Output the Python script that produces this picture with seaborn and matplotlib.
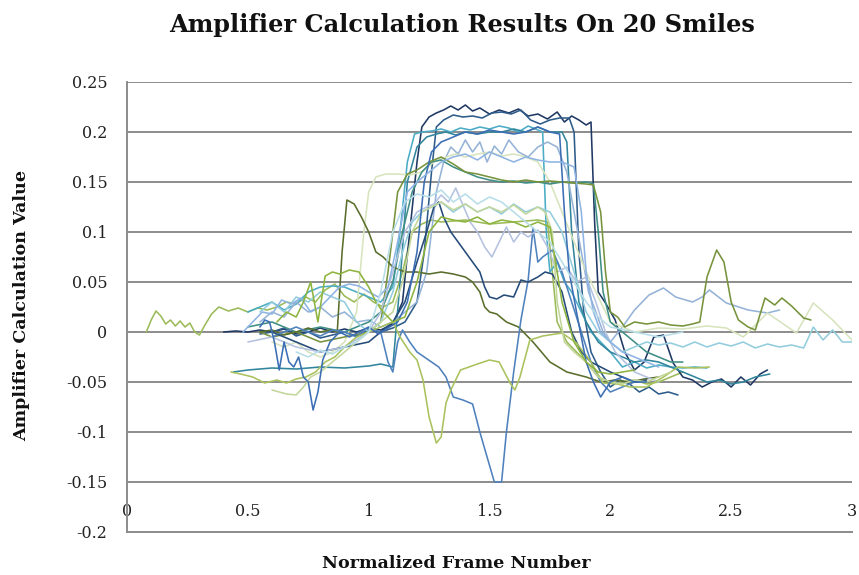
import numpy as np
import pandas as pd
import matplotlib
matplotlib.use("Agg")
import matplotlib.pyplot as plt
import seaborn as sns

# ---------------- data ----------------
s01_x = [0.08,0.10,0.12,0.14,0.16,0.18,0.20,0.22,0.24,0.26,0.28,0.30,0.32,0.35,0.38,0.42,0.46,0.50,0.54,0.58,0.62,0.66,0.70,0.74,0.78,0.82,0.86,0.90,0.94,0.98,1.02,1.06,1.10,1.14,1.18,1.22,1.26,1.30,1.40,1.50,1.60,1.70,1.74,1.76,1.78,1.82,1.86,1.90,1.95,2.00,2.05,2.10,2.15,2.20,2.25,2.30]
s01_y = [0.0,0.012,0.021,0.016,0.008,0.012,0.006,0.011,0.005,0.009,0.0,-0.003,0.006,0.018,0.025,0.021,0.024,0.020,0.024,0.022,0.025,0.030,0.028,0.035,0.030,0.042,0.048,0.036,0.030,0.038,0.030,0.025,0.030,0.060,0.100,0.108,0.112,0.110,0.112,0.108,0.110,0.112,0.110,0.060,0.010,-0.010,-0.020,-0.030,-0.045,-0.050,-0.050,-0.048,-0.052,-0.050,-0.045,-0.040]

s02_x = [0.40,0.45,0.50,0.55,0.60,0.65,0.70,0.75,0.80,0.85,0.90,0.95,1.00,1.05,1.10,1.14,1.17,1.20,1.22,1.25,1.28,1.31,1.34,1.37,1.40,1.43,1.46,1.50,1.54,1.58,1.62,1.66,1.70,1.74,1.78,1.81,1.84,1.87,1.90,1.92,1.935,1.95,1.98,2.02,2.06,2.10,2.14,2.18,2.22,2.26,2.30,2.34,2.38,2.42,2.46,2.50,2.54,2.58,2.62,2.65]
s02_y = [0.0,0.001,0.0,0.002,0.0,0.003,-0.002,0.0,0.004,0.0,0.003,0.0,0.004,0.002,0.008,0.030,0.100,0.170,0.205,0.215,0.219,0.222,0.226,0.222,0.227,0.221,0.224,0.218,0.222,0.219,0.223,0.216,0.218,0.213,0.220,0.210,0.216,0.212,0.207,0.210,0.110,0.040,0.029,0.012,-0.020,-0.038,-0.030,-0.005,-0.003,-0.031,-0.045,-0.048,-0.055,-0.050,-0.047,-0.055,-0.045,-0.053,-0.042,-0.038]

s03_x = [0.55,0.60,0.65,0.70,0.75,0.80,0.85,0.90,0.95,1.00,1.05,1.10,1.15,1.20,1.23,1.26,1.28,1.31,1.35,1.39,1.43,1.47,1.51,1.55,1.59,1.63,1.67,1.71,1.75,1.79,1.83,1.85,1.87,1.89,1.92,1.96,2.00,2.04,2.08,2.12,2.16,2.20,2.24,2.28]
s03_y = [-0.002,0.0,0.004,-0.004,0.0,-0.006,-0.003,0.0,-0.004,0.002,0.0,0.004,0.010,0.030,0.080,0.160,0.205,0.212,0.217,0.215,0.216,0.214,0.219,0.220,0.218,0.222,0.212,0.208,0.212,0.214,0.214,0.200,0.080,0.020,-0.020,-0.040,-0.055,-0.048,-0.052,-0.060,-0.055,-0.062,-0.060,-0.063]

s04_x = [0.50,0.55,0.60,0.65,0.70,0.75,0.80,0.85,0.90,0.95,1.00,1.05,1.10,1.13,1.16,1.19,1.22,1.26,1.30,1.34,1.38,1.42,1.46,1.50,1.54,1.58,1.62,1.66,1.70,1.72,1.735,1.75,1.78,1.81,1.84,1.88,1.92,1.96,2.00,2.05,2.10,2.15,2.20,2.25,2.30,2.35,2.40]
s04_y = [0.020,0.025,0.030,0.022,0.028,0.040,0.045,0.046,0.045,0.040,0.035,0.030,0.045,0.100,0.170,0.198,0.200,0.201,0.203,0.200,0.204,0.202,0.205,0.203,0.206,0.204,0.200,0.206,0.202,0.200,0.100,0.060,0.070,0.050,0.040,0.020,0.000,-0.010,-0.020,-0.035,-0.030,-0.036,-0.033,-0.035,-0.036,-0.035,-0.036]

s05_x = [0.44,0.50,0.60,0.70,0.80,0.90,1.00,1.05,1.10,1.13,1.16,1.20,1.24,1.28,1.32,1.36,1.40,1.45,1.50,1.55,1.60,1.65,1.70,1.75,1.80,1.82,1.84,1.87,1.90,1.95,2.00,2.05,2.10,2.15,2.20,2.25,2.30,2.35,2.40,2.45,2.50,2.55,2.60,2.66]
s05_y = [-0.040,-0.038,-0.036,-0.037,-0.035,-0.036,-0.034,-0.032,-0.035,0.050,0.150,0.185,0.195,0.198,0.200,0.197,0.200,0.198,0.200,0.200,0.203,0.200,0.205,0.200,0.200,0.190,0.100,0.030,0.010,-0.010,-0.020,-0.025,-0.030,-0.028,-0.030,-0.035,-0.040,-0.045,-0.050,-0.048,-0.052,-0.050,-0.045,-0.042]

s06_x = [0.55,0.60,0.65,0.70,0.75,0.80,0.85,0.90,0.95,1.00,1.05,1.10,1.15,1.20,1.24,1.28,1.31,1.34,1.37,1.40,1.43,1.46,1.49,1.52,1.55,1.58,1.62,1.66,1.70,1.74,1.78,1.82,1.85,1.88,1.91,1.94,1.97,2.00,2.05,2.10,2.16,2.22,2.27,2.34,2.38,2.41,2.48,2.57,2.65,2.70]
s06_y = [0.010,0.020,0.015,0.030,0.020,0.025,0.015,0.020,0.010,0.012,0.005,0.010,0.020,0.030,0.060,0.140,0.170,0.185,0.178,0.192,0.180,0.190,0.170,0.186,0.178,0.192,0.180,0.175,0.185,0.190,0.185,0.160,0.120,0.080,0.040,0.020,0.000,-0.010,0.005,0.022,0.037,0.044,0.035,0.030,0.035,0.042,0.029,0.022,0.019,0.022]

s07_x = [0.60,0.65,0.70,0.75,0.80,0.85,0.90,0.95,0.98,1.00,1.03,1.07,1.12,1.17,1.22,1.27,1.32,1.36,1.40,1.45,1.50,1.55,1.60,1.65,1.70,1.75,1.80,1.85,1.90,1.95,2.00,2.05,2.10,2.20,2.30,2.40,2.48,2.55,2.65,2.71,2.77,2.84,2.92,2.96,3.00]
s07_y = [-0.010,-0.015,-0.010,-0.020,-0.025,-0.020,-0.010,0.020,0.100,0.140,0.155,0.158,0.158,0.157,0.160,0.170,0.175,0.178,0.175,0.178,0.180,0.176,0.178,0.175,0.170,0.150,0.120,0.090,0.060,0.035,0.010,0.005,0.000,0.004,0.003,0.006,0.004,-0.005,0.019,0.009,-0.001,0.029,0.012,0.002,-0.008]

s08_x = [0.50,0.60,0.70,0.80,0.90,1.00,1.05,1.10,1.14,1.18,1.22,1.26,1.30,1.35,1.40,1.45,1.50,1.55,1.60,1.65,1.70,1.75,1.80,1.85,1.90,1.93,1.95,1.97,2.00,2.05,2.10,2.15,2.20,2.25,2.30]
s08_y = [0.005,0.010,0.000,0.005,0.000,0.010,0.020,0.050,0.100,0.140,0.160,0.170,0.172,0.165,0.160,0.155,0.152,0.150,0.151,0.149,0.150,0.148,0.150,0.149,0.150,0.148,0.100,0.040,0.010,0.000,-0.010,-0.020,-0.025,-0.030,-0.030]

s09_x = [0.55,0.60,0.70,0.80,0.90,1.00,1.05,1.08,1.12,1.16,1.20,1.25,1.30,1.35,1.40,1.45,1.50,1.55,1.60,1.65,1.70,1.75,1.80,1.85,1.90,1.93,1.96,1.98,2.00,2.03,2.06,2.10,2.15,2.20,2.25,2.30,2.34,2.37,2.40,2.44,2.47,2.50,2.53,2.57,2.60,2.64,2.68,2.71,2.75,2.80,2.83]
s09_y = [0.000,-0.005,0.000,-0.010,-0.005,0.000,0.010,0.060,0.140,0.158,0.162,0.170,0.175,0.168,0.160,0.158,0.155,0.152,0.150,0.152,0.150,0.151,0.150,0.149,0.148,0.147,0.120,0.060,0.020,0.015,0.005,0.010,0.008,0.010,0.007,0.006,0.008,0.010,0.055,0.082,0.070,0.030,0.012,0.005,0.002,0.034,0.027,0.034,0.026,0.014,0.012]

s10_x = [0.55,0.60,0.65,0.70,0.75,0.80,0.84,0.87,0.89,0.91,0.94,0.97,1.00,1.03,1.06,1.10,1.15,1.20,1.25,1.30,1.35,1.40,1.43,1.46,1.48,1.50,1.53,1.57,1.62,1.68,1.75,1.82,1.90,1.96,2.02,2.08,2.14,2.20]
s10_y = [0.000,0.002,-0.003,0.000,0.004,0.000,0.002,0.000,0.080,0.132,0.128,0.115,0.100,0.080,0.075,0.065,0.060,0.060,0.058,0.060,0.058,0.055,0.050,0.040,0.025,0.020,0.018,0.010,0.005,-0.010,-0.030,-0.040,-0.045,-0.050,-0.048,-0.050,-0.047,-0.045]

s11_x = [0.60,0.65,0.70,0.75,0.80,0.85,0.90,0.95,1.00,1.05,1.08,1.10,1.12,1.14,1.17,1.20,1.23,1.26,1.29,1.32,1.35,1.39,1.43,1.46,1.49,1.52,1.55,1.57,1.60,1.63,1.66,1.68,1.70,1.72,1.76,1.80,1.84,1.88,1.92,1.96,2.00,2.05,2.10]
s11_y = [-0.005,0.000,0.005,0.000,-0.004,0.002,0.000,-0.005,0.004,0.000,-0.030,-0.040,-0.010,0.002,-0.010,-0.020,-0.025,-0.030,-0.035,-0.045,-0.065,-0.068,-0.072,-0.100,-0.125,-0.150,-0.150,-0.100,-0.040,0.012,0.052,0.104,0.070,0.075,0.082,0.060,0.030,0.000,-0.030,-0.050,-0.060,-0.055,-0.050]

s12_x = [0.60,0.70,0.80,0.90,1.00,1.05,1.10,1.15,1.20,1.24,1.27,1.29,1.31,1.34,1.37,1.40,1.43,1.46,1.48,1.50,1.53,1.56,1.60,1.63,1.66,1.70,1.73,1.76,1.80,1.84,1.88,1.92,1.96,2.00,2.05,2.10,2.15]
s12_y = [0.000,-0.010,-0.020,-0.015,-0.010,0.000,0.010,0.030,0.070,0.100,0.125,0.130,0.115,0.100,0.090,0.080,0.070,0.060,0.045,0.035,0.033,0.037,0.035,0.052,0.050,0.055,0.060,0.058,0.040,0.000,-0.020,-0.030,-0.035,-0.040,-0.045,-0.050,-0.048]

s13_x = [0.50,0.60,0.70,0.80,0.90,1.00,1.05,1.10,1.15,1.20,1.24,1.27,1.30,1.33,1.36,1.39,1.42,1.45,1.48,1.51,1.54,1.57,1.60,1.63,1.66,1.70,1.74,1.78,1.82,1.86,1.90,1.94,1.98,2.02,2.06,2.10,2.15,2.20]
s13_y = [-0.010,-0.005,-0.015,-0.020,-0.015,0.000,0.020,0.060,0.100,0.120,0.125,0.128,0.137,0.130,0.144,0.127,0.110,0.100,0.085,0.075,0.090,0.105,0.090,0.100,0.095,0.102,0.085,0.060,0.065,0.050,0.055,0.030,0.000,-0.020,-0.030,-0.040,-0.045,-0.050]

s14_x = [0.55,0.60,0.65,0.70,0.75,0.80,0.85,0.90,0.95,1.00,1.05,1.10,1.14,1.18,1.22,1.26,1.30,1.35,1.40,1.45,1.50,1.55,1.60,1.65,1.70,1.75,1.80,1.85,1.90,1.95,2.00,2.05,2.10,2.15,2.20,2.25,2.30,2.35,2.40,2.45,2.50,2.55,2.60,2.65,2.70,2.75,2.80,2.84,2.88,2.92,2.96,3.00]
s14_y = [0.020,0.030,0.020,0.035,0.030,0.040,0.035,0.030,0.010,0.000,0.010,0.040,0.080,0.110,0.120,0.125,0.130,0.120,0.128,0.120,0.125,0.118,0.128,0.120,0.125,0.120,0.100,0.060,0.020,0.000,-0.010,-0.020,-0.015,-0.010,-0.013,-0.011,-0.015,-0.010,-0.015,-0.011,-0.014,-0.010,-0.016,-0.012,-0.015,-0.013,-0.016,0.005,-0.008,0.002,-0.010,-0.010]

s15_x = [0.43,0.47,0.52,0.57,0.62,0.66,0.70,0.74,0.78,0.82,0.86,0.90,0.95,1.00,1.05,1.10,1.13,1.17,1.20,1.225,1.25,1.28,1.30,1.32,1.34,1.38,1.45,1.50,1.54,1.585,1.605,1.626,1.667,1.72,1.80,1.86,1.92,1.97,2.03,2.08,2.15,2.22,2.28,2.35,2.41]
s15_y = [-0.040,-0.042,-0.045,-0.051,-0.048,-0.051,-0.047,-0.045,-0.040,-0.030,-0.025,-0.015,-0.005,0.000,0.005,0.010,-0.005,-0.020,-0.028,-0.048,-0.085,-0.111,-0.105,-0.071,-0.058,-0.038,-0.032,-0.028,-0.030,-0.051,-0.058,-0.045,-0.008,-0.004,-0.001,-0.011,-0.030,-0.051,-0.052,-0.055,-0.055,-0.045,-0.035,-0.036,-0.035]

s16_x = [0.60,0.63,0.66,0.70,0.73,0.76,0.80,0.85,0.90,0.95,1.00,1.05,1.10,1.14,1.18,1.22,1.26,1.30,1.35,1.40,1.45,1.50,1.55,1.60,1.65,1.70,1.73,1.76,1.78,1.81,1.85,1.90,1.95,2.00,2.05,2.10,2.15,2.20,2.25]
s16_y = [-0.058,-0.060,-0.062,-0.063,-0.055,-0.045,-0.040,-0.030,-0.020,-0.010,0.000,0.010,0.020,0.050,0.100,0.120,0.125,0.130,0.122,0.128,0.120,0.125,0.120,0.127,0.118,0.125,0.120,0.100,0.030,-0.010,-0.020,-0.030,-0.045,-0.050,-0.052,-0.048,-0.050,-0.045,-0.040]

s17_x = [0.55,0.57,0.59,0.61,0.63,0.65,0.67,0.69,0.71,0.73,0.75,0.77,0.79,0.81,0.84,0.88,0.92,0.96,1.00,1.04,1.08,1.12,1.16,1.20,1.23,1.26,1.30,1.35,1.40,1.45,1.50,1.55,1.60,1.65,1.70,1.75,1.79,1.81,1.83,1.86,1.90,1.93,1.96,2.00,2.05,2.10,2.15]
s17_y = [0.005,0.012,0.010,-0.010,-0.038,-0.010,-0.030,-0.035,-0.025,-0.045,-0.050,-0.078,-0.060,-0.028,-0.010,0.000,-0.005,0.000,0.005,-0.002,0.004,0.010,0.030,0.080,0.150,0.180,0.190,0.195,0.200,0.198,0.202,0.200,0.198,0.200,0.205,0.200,0.198,0.120,0.060,0.020,-0.030,-0.050,-0.065,-0.050,-0.045,-0.050,-0.050]

s18_x = [0.48,0.52,0.56,0.60,0.64,0.68,0.72,0.76,0.80,0.84,0.88,0.92,0.96,1.00,1.04,1.08,1.12,1.16,1.20,1.25,1.30,1.35,1.40,1.45,1.50,1.55,1.60,1.65,1.70,1.75,1.80,1.85,1.88,1.90,1.93,1.96,2.00,2.05,2.10,2.15,2.20]
s18_y = [0.000,0.010,0.020,0.018,0.032,0.028,0.034,0.020,0.025,0.035,0.045,0.048,0.046,0.040,0.035,0.045,0.090,0.140,0.150,0.160,0.170,0.175,0.178,0.172,0.180,0.175,0.170,0.175,0.172,0.170,0.170,0.165,0.120,0.060,0.020,0.000,-0.010,-0.020,-0.025,-0.030,-0.035]

s19_x = [0.62,0.66,0.70,0.73,0.76,0.79,0.82,0.85,0.88,0.92,0.96,1.00,1.03,1.06,1.10,1.15,1.20,1.25,1.30,1.35,1.40,1.45,1.50,1.55,1.60,1.65,1.70,1.75,1.80,1.85,1.90,1.95,2.00,2.05,2.10]
s19_y = [0.010,0.020,0.015,0.030,0.050,0.010,0.056,0.060,0.058,0.062,0.060,0.045,0.030,0.020,0.010,0.015,0.050,0.100,0.115,0.112,0.110,0.115,0.108,0.112,0.110,0.105,0.110,0.105,0.030,-0.010,-0.030,-0.040,-0.042,-0.040,-0.038]

s20_x = [0.70,0.75,0.80,0.85,0.90,0.95,1.00,1.05,1.10,1.15,1.20,1.25,1.30,1.35,1.40,1.45,1.50,1.55,1.60,1.65,1.70,1.75,1.80,1.85,1.90,1.95,2.00,2.10,2.20,2.30]
s20_y = [-0.020,-0.025,-0.018,-0.022,-0.015,-0.010,0.000,0.040,0.100,0.130,0.138,0.135,0.142,0.130,0.138,0.128,0.135,0.130,0.120,0.110,0.100,0.090,0.070,0.050,0.030,0.015,0.005,0.000,-0.005,0.000]

series_names = ["Smile %d" % i for i in range(1, 21)]
series_x = [s01_x, s02_x, s03_x, s04_x, s05_x, s06_x, s07_x, s08_x, s09_x, s10_x,
            s11_x, s12_x, s13_x, s14_x, s15_x, s16_x, s17_x, s18_x, s19_x, s20_x]
series_y = [s01_y, s02_y, s03_y, s04_y, s05_y, s06_y, s07_y, s08_y, s09_y, s10_y,
            s11_y, s12_y, s13_y, s14_y, s15_y, s16_y, s17_y, s18_y, s19_y, s20_y]

y_ticks = [-0.2, -0.15, -0.1, -0.05, 0, 0.05, 0.1, 0.15, 0.2, 0.25]
y_tick_labels = ["-0.2", "-0.15", "-0.1", "-0.05", "0", "0.05", "0.1", "0.15", "0.2", "0.25"]
x_ticks = [0, 0.5, 1, 1.5, 2, 2.5, 3]
x_tick_labels = ["0", "0.5", "1", "1.5", "2", "2.5", "3"]

colors = ["#9bbb59", "#1f3864", "#2e5c8a", "#4bacc6", "#31859c",
          "#95b3d7", "#d7e4bd", "#3f8f86", "#77933c", "#5a6e2c",
          "#4f81bd", "#254b79", "#b4c2e0", "#93cddd", "#a9c25d",
          "#c3d69b", "#3c6eb4", "#8eb4e3", "#8db43e", "#b7dee8"]

# ---------------- build table ----------------
frames = []
for name, xs, ys in zip(series_names, series_x, series_y):
    frames.append(pd.DataFrame({"smile": name, "frame": xs, "value": ys}))
df = pd.concat(frames, ignore_index=True)

sns.set_theme(style="white")
plt.rcParams["font.family"] = ["DejaVu Serif"]

fig = plt.figure(figsize=(8.59, 5.75), dpi=100)
ax = fig.add_axes([127 / 859, 1 - 532 / 575, (852 - 127) / 859, (532 - 82) / 575])

sns.lineplot(data=df, x="frame", y="value", hue="smile", hue_order=series_names,
             palette=colors, estimator=None, sort=False, units="smile",
             linewidth=1.15, legend=False, ax=ax)

ax.set_xlim(0, 3)
ax.set_ylim(-0.2, 0.25)
ax.set_yticks(y_ticks)
ax.set_yticklabels(y_tick_labels)
ax.set_xticks(x_ticks)
ax.set_xticklabels(x_tick_labels)
ax.yaxis.grid(True, color="#8c8c8c", linewidth=1.4)
ax.xaxis.grid(False)
ax.set_axisbelow(True)
for side in ["top", "right"]:
    ax.spines[side].set_visible(False)
for side in ["left", "bottom"]:
    ax.spines[side].set_color("#8c8c8c")
    ax.spines[side].set_linewidth(1.4)
ax.tick_params(axis="y", length=0, pad=14, labelsize=11.5, labelcolor="#222222")
ax.tick_params(axis="x", length=0, pad=-21, labelsize=11.5, labelcolor="#222222")
ax.set_xlabel("")
ax.set_ylabel("")

fig.text(462 / 859, 1 - 25 / 575, "Amplifier Calculation Results On 20 Smiles",
         ha="center", va="center", fontsize=17.3, fontweight="bold", color="#111111")
fig.text(22 / 859, 1 - 305 / 575, "Amplifier Calculation Value", rotation=90,
         ha="center", va="center", fontsize=12.6, fontweight="bold", color="#111111")
fig.text(456 / 859, 1 - 563 / 575, "Normalized Frame Number",
         ha="center", va="center", fontsize=12.6, fontweight="bold", color="#111111")

fig.savefig("out.png", dpi=100, facecolor="white")
